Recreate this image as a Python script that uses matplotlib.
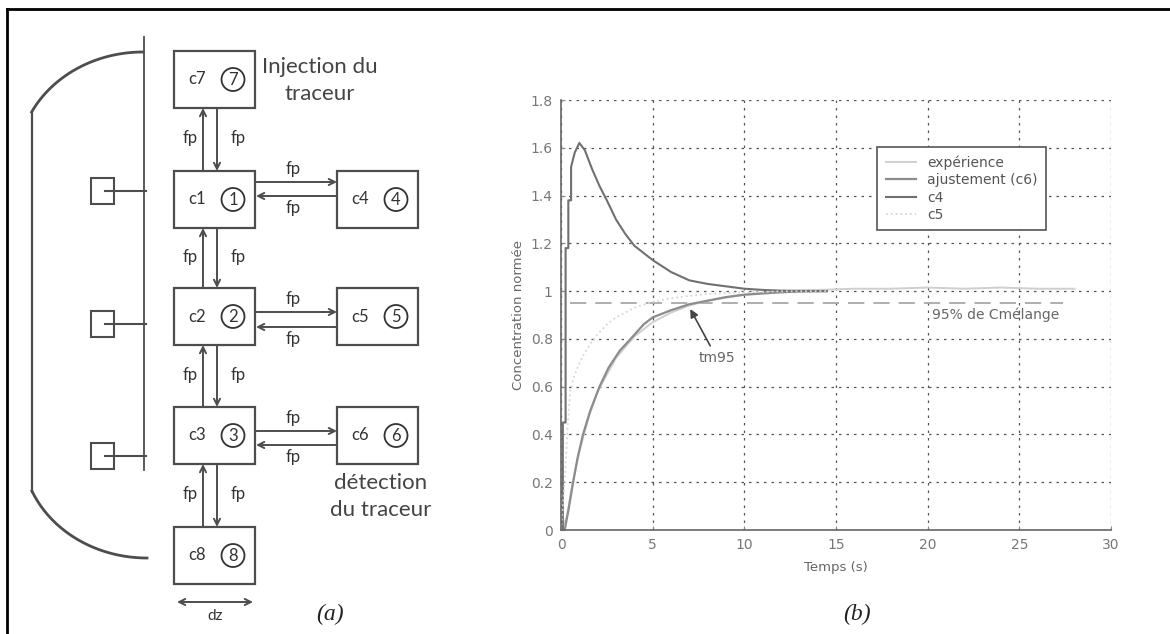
import numpy as np
import matplotlib.pyplot as plt
from matplotlib.patches import Rectangle, Circle

# --- curve data (time in s, normalised concentration) ---
t_c4 = [0, 0.1, 0.1, 0.25, 0.25, 0.4, 0.4, 0.55, 0.55, 0.75, 1.0, 1.3, 1.7, 2.1,
        2.5, 3.0, 3.5, 4.0, 4.5, 5.0, 6.0, 7.0, 8.0, 9.0, 10.0, 11.0, 12.0, 13.0, 14.5]
c4 = [0, 0, 0.45, 0.45, 1.18, 1.18, 1.38, 1.38, 1.52, 1.58, 1.62, 1.59, 1.51, 1.44,
      1.38, 1.30, 1.24, 1.19, 1.16, 1.13, 1.08, 1.045, 1.03, 1.02, 1.01, 1.005, 1.002, 1.001, 1.0]

t_c5 = [0, 0.2, 0.35, 0.5, 0.7, 0.9, 1.2, 1.6, 2.0, 2.5, 3.0, 4.0, 5.0, 6.0, 7.0, 8.0,
        10.0, 12.0, 14.5]
c5 = [0, 0.2, 0.42, 0.58, 0.64, 0.68, 0.73, 0.78, 0.82, 0.86, 0.89, 0.93, 0.955, 0.97,
      0.98, 0.988, 0.995, 0.999, 1.0]

t_fit = [0, 0.2, 0.4, 0.66, 0.9, 1.2, 1.6, 2.1, 2.6, 3.2, 3.8, 4.5, 5.0, 6.0, 7.0, 8.0,
         9.0, 10.0, 11.0, 12.0, 13.0, 14.5]
c6_fit = [0, 0.0, 0.08, 0.2, 0.3, 0.4, 0.5, 0.6, 0.68, 0.75, 0.8, 0.86, 0.89, 0.92,
          0.945, 0.96, 0.975, 0.985, 0.99, 0.995, 0.998, 1.0]

t_exp = [0, 0.3, 0.6, 1.0, 1.5, 2.0, 3.0, 4.0, 5.0, 6.0, 7.0, 8.0, 10.0, 12.0, 14.0,
         16.0, 18.0, 20.0, 22.0, 24.0, 26.0, 28.0]
c_exp = [0, 0.05, 0.18, 0.33, 0.47, 0.58, 0.72, 0.81, 0.87, 0.91, 0.94, 0.96, 0.985,
         1.0, 1.005, 1.01, 1.01, 1.015, 1.01, 1.015, 1.01, 1.01]

seuil = 0.95
t_seuil = [0.5, 27.4]
tm95 = (7.05, 0.925)

yticks = [0, 0.2, 0.4, 0.6, 0.8, 1.0, 1.2, 1.4, 1.6, 1.8]
ytick_labels = ['0', '0.2', '0.4', '0.6', '0.8', '1', '1.2', '1.4', '1.6', '1.8']
xticks = [0, 5, 10, 15, 20, 25, 30]

W, H = 1170, 634
fig = plt.figure(figsize=(W / 100, H / 100), dpi=100)

# ---------------- (a) schematic, drawn in pixel units ----------------
d = fig.add_axes([0, 0, 1, 1])
d.set_xlim(0, W)
d.set_ylim(H, 0)
d.axis('off')

ink = '#4d4d4d'
fnt = 'Lato'

# outer frame
d.plot([7, W], [9, 9], color='black', lw=2)
d.plot([7, 7], [9, H], color='black', lw=2)

# vessel outline
d.plot([144, 144], [37, 470], color=ink, lw=1.3)
phi = np.radians(np.linspace(27, 90, 60))
d.plot(143 - 125 * np.cos(phi), 162 - 110 * np.sin(phi), color=ink, lw=2)
d.plot([32, 32], [112, 492], color=ink, lw=1.6)
phi = np.radians(np.linspace(23, 90, 60))
d.plot(147 - 125 * np.cos(phi), 448 + 110 * np.sin(phi), color=ink, lw=2)

# probes
for yc in [191, 324, 456]:
    d.add_patch(Rectangle((91, yc - 13), 23, 26, fill=False, ec=ink, lw=1.5))
    d.plot([105, 146], [yc, yc], color=ink, lw=1.5)

# compartments
bw, bh = 81, 57
cells = {
    7: (174, 51), 1: (174, 171), 2: (174, 288), 3: (174, 407), 8: (174, 527),
    4: (337, 171), 5: (337, 288), 6: (337, 407),
}
for k, (x0, y0) in cells.items():
    d.add_patch(Rectangle((x0, y0), bw, bh, fill=False, ec=ink, lw=1.6))
    yc = y0 + bh / 2
    d.text(x0 + 23, yc, 'c%d' % k, ha='center', va='center', fontsize=12,
           family=fnt, color='#333333')
    d.add_patch(Circle((x0 + 59, yc), 11.5, fill=False, ec='#333333', lw=1.3))
    d.text(x0 + 59, yc + 0.5, str(k), ha='center', va='center', fontsize=12,
           family=fnt, color='#333333')


def arrow(x1, y1, x2, y2, style='->'):
    d.annotate('', xy=(x2, y2), xytext=(x1, y1),
               arrowprops=dict(arrowstyle=style, color=ink, lw=1.4,
                               mutation_scale=11, shrinkA=0, shrinkB=0))


def fp(x, y):
    d.text(x, y, 'fp', ha='center', va='center', fontsize=12, family=fnt,
           color='#333333')


# vertical exchanges
for top, bot in [(108, 171), (228, 288), (345, 407), (464, 527)]:
    arrow(203, bot, 203, top)
    arrow(217, top, 217, bot)
    fp(190, (top + bot) / 2 - 1)
    fp(238, (top + bot) / 2 - 1)

# horizontal exchanges
for yr, yl in [(182, 196), (312, 327), (431, 445)]:
    arrow(256, yr, 337, yr)
    arrow(337, yl, 256, yl)
    fp(293, yr - 13)
    fp(293, yl + 12)

d.text(320, 67, 'Injection du', ha='center', va='center', fontsize=16,
       family=fnt, color='#444444')
d.text(320, 94, 'traceur', ha='center', va='center', fontsize=16,
       family=fnt, color='#444444')
d.text(381, 483, 'détection', ha='center', va='center', fontsize=16,
       family=fnt, color='#444444')
d.text(381, 510, 'du traceur', ha='center', va='center', fontsize=16,
       family=fnt, color='#444444')

arrow(177, 602, 253, 602, style='<->')
d.text(215, 616, 'dz', ha='center', va='center', fontsize=11, family=fnt,
       color='#333333')

d.text(330, 614, '(a)', ha='center', va='center', fontsize=17,
       family='Liberation Serif', style='italic', color='#222222')
d.text(857, 614, '(b)', ha='center', va='center', fontsize=17,
       family='Liberation Serif', style='italic', color='#222222')

# ---------------- (b) concentration curves ----------------
ax = fig.add_axes([561 / W, (H - 530) / H, 550 / W, 430 / H])
ax.set_xlim(0, 30)
ax.set_ylim(0, 1.8)
ax.set_xticks(xticks)
ax.set_yticks(yticks)
ax.set_yticklabels(ytick_labels)
ax.tick_params(direction='in', length=3, colors='#888888', labelcolor='#777777',
               labelsize=10, pad=6)
for side, s in ax.spines.items():
    s.set_color('#666666')
    s.set_linewidth(1.2)
    if side in ('top', 'right'):
        s.set_visible(False)
ax.grid(True, color='#555555', lw=0.9, linestyle=(0, (2, 4)))

ax.plot(t_seuil, [seuil, seuil], color='#a8a8a8', lw=1.3, linestyle=(0, (9, 5)))
l_exp, = ax.plot(t_exp, c_exp, color='#cfcfcf', lw=1.4, label='expérience')
l_fit, = ax.plot(t_fit, c6_fit, color='#8c8c8c', lw=1.6, label='ajustement (c6)')
l_c4, = ax.plot(t_c4, c4, color='#707070', lw=1.5, label='c4')
l_c5, = ax.plot(t_c5, c5, color='#d6d6d6', lw=1.3, linestyle=':', label='c5')

ax.text(20.25, 0.90, '95% de Cmélange', ha='left', va='center', fontsize=10,
        color='#666666')
ax.annotate('tm95', xy=tm95, xytext=(8.5, 0.72), ha='center', va='center',
            fontsize=10, color='#666666',
            arrowprops=dict(arrowstyle='-|>', color='#444444', lw=1.2,
                            mutation_scale=12, shrinkA=2, shrinkB=0))

ax.set_xlabel('Temps (s)', fontsize=9.5, color='#666666', labelpad=6)
ax.set_ylabel('Concentration normée', fontsize=9.5, color='#666666', labelpad=4)

leg = ax.legend(handles=[l_exp, l_fit, l_c4, l_c5], loc='upper left',
                bbox_to_anchor=(0.575, 0.891), borderaxespad=0, fontsize=10,
                handlelength=2.2, handletextpad=0.8, labelspacing=0.25,
                fancybox=False, framealpha=1, borderpad=0.6)
leg.get_frame().set_edgecolor('#555555')
leg.get_frame().set_linewidth(1.2)
for txt in leg.get_texts():
    txt.set_color('#555555')

fig.savefig('out.png', dpi=100)
